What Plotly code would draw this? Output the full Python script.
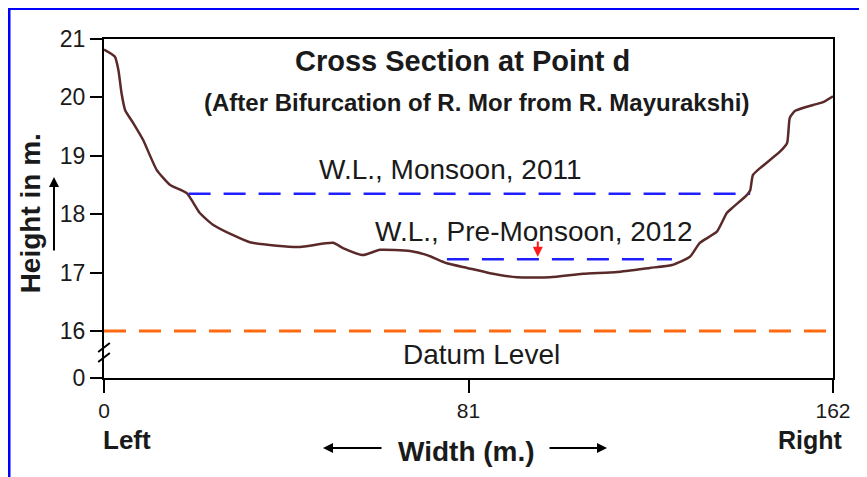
import plotly.graph_objects as go

# ---- data ----
width_m = [0, 2.4, 3.2, 3.9, 4.7, 6.5, 8.7, 11.7, 14.7, 18.4, 21.3, 24.2, 28.7, 32.4, 38.4,
           43.6, 50.9, 53.1, 57.6, 61.3, 68.0, 71.8, 76.2, 80.7, 85.8, 91.8, 99.1, 106.4,
           114.0, 121.3, 126.2, 130.2, 132.4, 136.2, 138.4, 139.8, 142.9, 143.6, 144.2,
           145.8, 150.2, 151.8, 152.4, 153.6, 157.6, 159.8, 162]
height_m = [20.82, 20.70, 20.47, 20.07, 19.78, 19.56, 19.27, 18.76, 18.50, 18.36, 18.02, 17.82,
            17.64, 17.52, 17.46, 17.44, 17.51, 17.42, 17.30, 17.39, 17.37, 17.30, 17.16, 17.08,
            16.99, 16.92, 16.92, 16.98, 17.01, 17.08, 17.13, 17.27, 17.51, 17.70, 18.02, 18.12,
            18.33, 18.41, 18.67, 18.79, 19.07, 19.22, 19.65, 19.77, 19.87, 19.92, 20.02]

monsoon_x = [18.8, 143.6]
monsoon_level = 18.35
premonsoon_x = [76.2, 126.2]
premonsoon_level = 17.23
datum_x = [0, 162]
datum_level = 16

x_tickvals = [0, 81, 162]
x_ticktext = ["0", "81", "162"]
zero_pos = 15.195          # position where the broken axis shows "0"
y_tickvals = [zero_pos, 16, 17, 18, 19, 20, 21]
y_ticktext = ["0", "16", "17", "18", "19", "20", "21"]

FONT = "Liberation Sans, Arial, sans-serif"
TXT = "#1a1a1a"

fig = go.Figure()

fig.add_trace(go.Scatter(x=datum_x, y=[datum_level] * 2, mode="lines",
                         line=dict(color="#ff6a10", width=3, dash="22px,13px"),
                         hoverinfo="skip"))
fig.add_trace(go.Scatter(x=monsoon_x, y=[monsoon_level] * 2, mode="lines",
                         line=dict(color="#2020ff", width=2.5, dash="22px,13px"),
                         hoverinfo="skip"))
fig.add_trace(go.Scatter(x=premonsoon_x, y=[premonsoon_level] * 2, mode="lines",
                         line=dict(color="#2020ff", width=2.5, dash="22px,13px"),
                         hoverinfo="skip"))
fig.add_trace(go.Scatter(x=width_m, y=height_m, mode="lines",
                         line=dict(color="#5a2a2a", width=2.5, shape="spline", smoothing=0.5)))

ann = []
def txt(text, x, y, size, bold=False, xref="x", yref="y", xanchor="center", angle=0):
    ann.append(dict(text=("<b>%s</b>" % text) if bold else text, x=x, y=y, xref=xref, yref=yref,
                    xanchor=xanchor, yanchor="middle", showarrow=False, textangle=angle,
                    font=dict(family=FONT, size=size, color=TXT)))

txt("Cross Section at Point d", 0.492, 1.0 - (61 - 39) / 339, 29, True, "paper", "paper")
txt("(After Bifurcation of R. Mor from R. Mayurakshi)", 0.511, 1.0 - (102 - 39) / 339, 24, True, "paper", "paper")
txt("W.L., Monsoon, 2011", 76.9, 18.77, 28)
txt("W.L., Pre-Monsoon, 2012", 95.6, 17.71, 28)
txt("Datum Level", 83.8, 15.60, 28)
txt("Height in m.", -0.101, 1.0 - (213 - 39) / 339, 28, True, "paper", "paper", angle=-90)
txt("Width (m.)", 0.4966, -0.218, 28, True, "paper", "paper")
txt("Left", -0.004, -0.182, 26, True, "paper", "paper", xanchor="left")
txt("Right", 1.0165, -0.182, 25, True, "paper", "paper", xanchor="right")

# arrows
def arrow(x, y, ax, ay, color="black", xref="paper", yref="paper", width=2, size=1.0):
    ann.append(dict(x=x, y=y, xref=xref, yref=yref, ax=ax, ay=ay, text="", showarrow=True,
                    arrowhead=2, arrowsize=size, arrowwidth=width, arrowcolor=color))

arrow(-0.0686, 0.593, 0, 75)            # y-title arrow
arrow(0.3004, -0.2065, 60, 0)           # width left arrow
arrow(0.690, -0.2065, -59, 0)           # width right arrow
ann.append(dict(x=96.4, y=17.27, xref="x", yref="y", ax=96.4, ay=17.56, axref="x", ayref="y",
                text="", showarrow=True, arrowhead=2, arrowsize=1.0, arrowwidth=2,
                arrowcolor="#ff1a1a"))

shapes = [
    # blue frame around the figure
    dict(type="rect", xref="paper", yref="paper", x0=-0.1303, x1=1.5, y0=-1.0, y1=1.09,
         line=dict(color="#0000ff", width=3), layer="below"),
    # axis break marks
    dict(type="line", xref="paper", yref="paper", x0=-0.008, x1=0.008,
         y0=(378 - 352) / 339, y1=(378 - 343) / 339, line=dict(color="black", width=2)),
    dict(type="line", xref="paper", yref="paper", x0=-0.008, x1=0.008,
         y0=(378 - 362) / 339, y1=(378 - 353) / 339, line=dict(color="black", width=2)),
]

fig.update_layout(
    width=859, height=469,
    margin=dict(l=96, r=34, t=31, b=99),
    paper_bgcolor="white", plot_bgcolor="white",
    showlegend=False,
    annotations=ann, shapes=shapes,
    xaxis=dict(range=[0, 162], tickvals=x_tickvals, ticktext=x_ticktext,
               showgrid=False, zeroline=False, showline=True, linecolor="black", linewidth=2,
               mirror=True, ticks="outside", ticklen=13, tickwidth=2, tickcolor="black",
               tickfont=dict(family=FONT, size=21, color=TXT)),
    yaxis=dict(range=[zero_pos, 21], tickvals=y_tickvals, ticktext=y_ticktext,
               showgrid=False, zeroline=False, showline=True, linecolor="black", linewidth=2,
               mirror=True, ticks="outside", ticklen=12, tickwidth=2, tickcolor="black",
               tickfont=dict(family=FONT, size=23, color=TXT)),
)

fig.write_html("out.html")
